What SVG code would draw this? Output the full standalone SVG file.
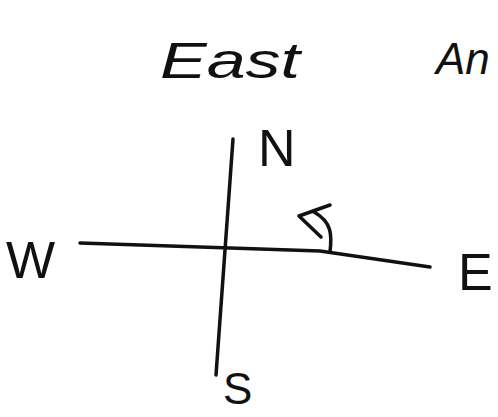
<svg xmlns="http://www.w3.org/2000/svg" width="498" height="417" viewBox="0 0 498 417">
<style>
.lbl{font-family:"Liberation Sans",Arial,sans-serif;font-size:52px;fill:#111;}
.title{font-family:"Liberation Sans",Arial,sans-serif;font-size:50px;font-style:italic;fill:#111;}
.ln{stroke:#111;stroke-width:3.5;fill:none;stroke-linecap:round;}
</style>
<rect width="498" height="417" fill="#fff"/>
<g id="title">
<text class="title" x="160" y="78" textLength="140" lengthAdjust="spacingAndGlyphs">East</text>
<text class="title" x="436" y="74" style="font-size:44px">An</text>
</g>
<g id="connectors">
<path class="ln" d="M233,139 L216,375"/>
<path class="ln" d="M80,243 L320,251 L430,267"/>
<path class="ln" d="M330,252 C332,235 332,222 314,212 M299,216 L330,205 M299,216 L321,237"/>
</g>
<g id="N"><text class="lbl" x="258" y="166">N</text></g>
<g id="W"><text class="lbl" x="6" y="278">W</text></g>
<g id="E"><text class="lbl" x="458" y="290">E</text></g>
<g id="S"><text class="lbl" x="223" y="404" style="font-size:44px">S</text></g>
</svg>
